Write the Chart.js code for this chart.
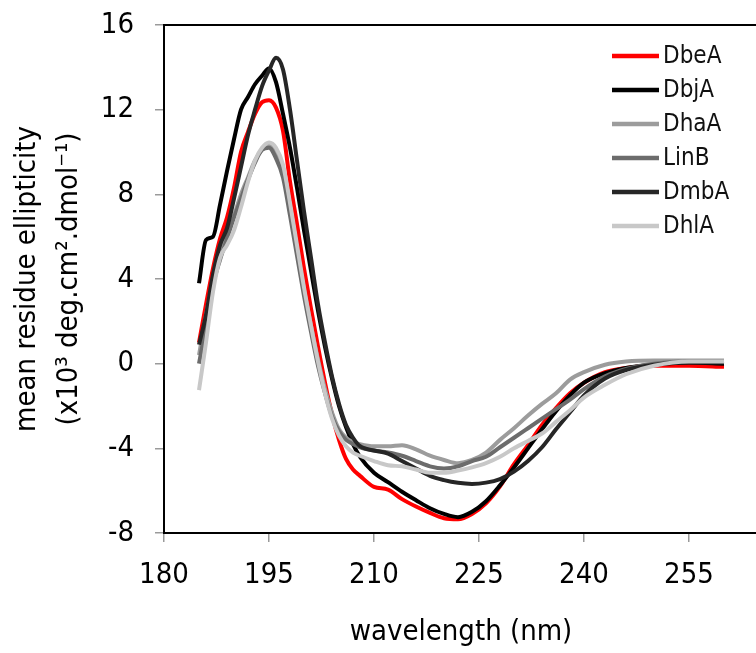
<!DOCTYPE html>
<html>
<head>
<meta charset="utf-8">
<script src="https://cdn.jsdelivr.net/npm/chart.js@4.4.1/dist/chart.umd.min.js"></script>
<style>
    html, body { margin: 0; padding: 0; background: #fff; overflow: hidden; }
    #wrap { position: relative; width: 760px; height: 653px; }
</style>
</head>
<body>
<div id="wrap"><canvas id="cdChart"></canvas></div>
<script>
// ========== DATA ==========
const wavelengths = [185, 186, 187, 188, 189, 190, 191, 192, 193, 194, 195, 196, 197, 198, 199, 200,
    201, 202, 203, 204, 205, 206, 207, 208, 210, 212, 214, 216, 218, 220, 222, 224, 226, 228,
    230, 232, 234, 236, 238, 240, 243, 246, 250, 255, 260];

const dbeA = [1.0, 2.8, 4.5, 5.9, 6.9, 8.3, 10.0, 10.95, 11.8, 12.35, 12.45, 12.1, 11.0, 8.6, 6.6, 4.5,
    2.6, 0.8, -0.9, -2.4, -3.6, -4.5, -5.0, -5.3, -5.82, -5.95, -6.4, -6.75, -7.05, -7.3, -7.35, -7.1, -6.6, -5.8,
    -4.75, -3.85, -2.9, -2.1, -1.4, -0.9, -0.4, -0.2, -0.1, -0.1, -0.15];
const dbjA = [3.8, 5.84, 6.0, 7.5, 9.1, 10.6, 12.0, 12.6, 13.2, 13.6, 13.95, 13.3, 11.8, 10.2, 8.3, 6.3,
    4.4, 2.5, 0.8, -0.7, -2.0, -3.0, -3.8, -4.4, -5.15, -5.6, -6.05, -6.45, -6.83, -7.1, -7.25, -7.0, -6.5, -5.75,
    -4.9, -4.0, -3.1, -2.25, -1.5, -0.9, -0.45, -0.2, -0.05, 0.05, 0.0];
const dhaA = [0.4, 2.3, 3.9, 5.2, 6.1, 7.0, 8.0, 8.8, 9.6, 10.1, 10.3, 9.9, 9.0, 7.3, 5.4, 3.5,
    1.8, 0.2, -1.2, -2.3, -3.1, -3.5, -3.7, -3.8, -3.9, -3.9, -3.85, -4.05, -4.35, -4.55, -4.7, -4.55, -4.2, -3.6,
    -3.05, -2.45, -1.9, -1.4, -0.75, -0.4, -0.05, 0.1, 0.15, 0.15, 0.15];
const linB = [0.0, 1.8, 3.7, 4.9, 5.9, 6.9, 7.8, 8.7, 9.5, 10.1, 10.2, 9.7, 8.8, 7.0, 5.1, 3.2,
    1.5, -0.1, -1.4, -2.5, -3.2, -3.6, -3.8, -3.95, -4.1, -4.2, -4.35, -4.6, -4.85, -4.95, -4.85, -4.6, -4.4, -3.95,
    -3.5, -3.05, -2.6, -2.15, -1.7, -1.2, -0.6, -0.25, 0.0, 0.1, 0.1];
const dmbA = [0.9, 2.3, 4.2, 5.6, 6.4, 7.8, 9.3, 10.8, 12.0, 13.1, 13.85, 14.45, 13.9, 12.0, 9.6, 7.2,
    5.0, 2.8, 1.0, -0.6, -1.9, -2.9, -3.5, -3.9, -4.1, -4.25, -4.6, -4.95, -5.3, -5.5, -5.63, -5.68, -5.62, -5.45,
    -5.1, -4.6, -3.95, -3.1, -2.3, -1.5, -0.7, -0.3, -0.05, 0.05, 0.05];
const dhlA = [-1.25, 1.0, 3.4, 5.0, 5.6, 6.3, 7.4, 8.6, 9.6, 10.2, 10.45, 10.2, 9.4, 7.6, 5.6, 3.6,
    1.8, 0.1, -1.4, -2.6, -3.4, -3.9, -4.2, -4.35, -4.6, -4.8, -4.85, -5.0, -5.15, -5.15, -5.05, -4.9, -4.7, -4.4,
    -4.0, -3.65, -3.3, -2.75, -2.2, -1.6, -1.0, -0.5, -0.1, 0.1, 0.1];

const seriesNames = ['DbeA', 'DbjA', 'DhaA', 'LinB', 'DmbA', 'DhlA'];
const seriesValues = [dbeA, dbjA, dhaA, linB, dmbA, dhlA];
const xTicks = [180, 195, 210, 225, 240, 255];
const yTicks = [-8, -4, 0, 4, 8, 12, 16];

// ========== STYLE ==========
const FONT = "'DejaVu Sans Condensed', 'DejaVu Sans', sans-serif";
const colors = ['#ff0000', '#000000', '#9c9c9c', '#6c6c6c', '#262626', '#c8c8c8'];
const drawOrder = [6, 5, 4, 3, 2, 1]; // higher = drawn first (under)

Chart.defaults.font.family = FONT;
Chart.defaults.color = '#000';

// top frame line + legend inside the plot
const frameLegend = {
    id: 'frameLegend',
    afterDraw(chart) {
        const { ctx, chartArea } = chart;
        ctx.save();
        ctx.strokeStyle = '#000';
        ctx.lineWidth = 2;
        ctx.beginPath();
        ctx.moveTo(chartArea.left - 1, chartArea.top);
        ctx.lineTo(chartArea.right, chartArea.top);
        ctx.stroke();

        ctx.font = '24px ' + FONT;
        ctx.textBaseline = 'middle';
        ctx.textAlign = 'left';
        chart.data.datasets.forEach((ds, i) => {
            const y = 56 + i * 34;
            ctx.strokeStyle = ds.borderColor;
            ctx.lineWidth = 4.5;
            ctx.beginPath();
            ctx.moveTo(612, y);
            ctx.lineTo(659, y);
            ctx.stroke();
            ctx.fillStyle = '#111';
            ctx.fillText(ds.label, 663, y + 1);
        });
        ctx.restore();
    }
};

const ctx = document.getElementById('cdChart').getContext('2d');
new Chart(ctx, {
    type: 'line',
    data: {
        labels: wavelengths,
        datasets: seriesNames.map((name, i) => ({
            label: name,
            data: wavelengths.map((w, j) => ({ x: w, y: seriesValues[i][j] })),
            borderColor: colors[i],
            backgroundColor: colors[i],
            borderWidth: 4,
            pointRadius: 0,
            cubicInterpolationMode: 'monotone',
            fill: false,
            order: drawOrder[i]
        }))
    },
    options: {
        responsive: true,
        maintainAspectRatio: false,
        animation: false,
        layout: { padding: { top: 25, right: 2, bottom: 0, left: 0 } },
        plugins: { legend: { display: false }, tooltip: { enabled: false } },
        scales: {
            x: {
                type: 'linear',
                min: 180,
                max: 264.857,
                afterBuildTicks: s => { s.ticks = xTicks.map(v => ({ value: v })); },
                afterFit: s => { s.height = 120; s.paddingLeft = 0; s.paddingRight = 0; },
                grid: { drawOnChartArea: false, drawTicks: true, tickLength: 9, color: '#9a9a9a', lineWidth: 1.5 },
                border: { color: '#000', width: 2 },
                ticks: { font: { size: 29 }, color: '#000', padding: 16, maxRotation: 0 },
                title: { display: true, text: 'wavelength (nm)', font: { size: 29 }, color: '#000', padding: { top: 0, bottom: 3 } }
            },
            y: {
                min: -8,
                max: 16,
                afterBuildTicks: s => { s.ticks = yTicks.map(v => ({ value: v })); },
                afterFit: s => { s.width = 164; s.paddingTop = 0; s.paddingBottom = 0; },
                grid: { drawOnChartArea: false, drawTicks: true, tickLength: 9, color: '#9a9a9a', lineWidth: 1.5 },
                border: { color: '#000', width: 2 },
                ticks: { font: { size: 29 }, color: '#000', padding: 21 },
                title: {
                    display: true,
                    text: ['mean residue ellipticity', '(x10\u00B3 deg.cm\u00B2.dmol\u207B\u00B9)'],
                    font: { size: 29, lineHeight: 1.45 },
                    color: '#000',
                    padding: { top: 6, bottom: 0 }
                }
            }
        }
    },
    plugins: [frameLegend]
});
</script>
</body>
</html>
